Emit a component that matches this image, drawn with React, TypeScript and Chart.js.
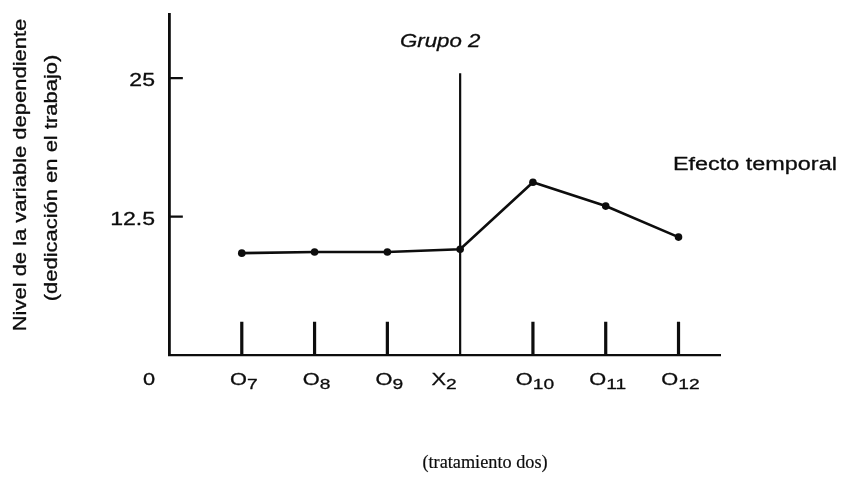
import React, { useEffect, useRef } from "react";
import { Chart, registerables } from "chart.js";

Chart.register(...registerables);

// ---- data ----
const labelBase = ["O", "O", "O", "X", "O", "O", "O"];
const labelSub = ["7", "8", "9", "2", "10", "11", "12"];
const values = [9.2, 9.3, 9.3, 9.55, 15.6, 13.45, 10.65];
const treatmentIndex = 3;
const treatmentLineTop = 25.45;
const observationTickHeight = 3;
const yTickValues = [12.5, 25];
const yTickLabels = ["12.5", "25"];
const yMax = 30.8;
const xMax = 7.57;
const yTitleLines = ["Nivel de la variable dependiente", "(dedicación en el trabajo)"];
const groupLabel = "Grupo 2";
const effectLabel = "Efecto temporal";
const xTitle = "(tratamiento dos)";
const originLabel = "0";

const SANS = '"Liberation Sans", Arial, sans-serif';
const SERIF = '"Liberation Serif", "Times New Roman", serif';
const INK = "#0d0d0d";

function drawStretched(
  ctx: CanvasRenderingContext2D,
  text: string,
  x: number,
  y: number,
  font: string,
  align: "left" | "center" | "right",
  sx: number,
  stroke = 0.3
) {
  ctx.save();
  ctx.font = font;
  const w = ctx.measureText(text).width * sx;
  const left = align === "center" ? x - w / 2 : align === "right" ? x - w : x;
  ctx.translate(left, y);
  ctx.scale(sx, 1);
  ctx.textAlign = "left";
  ctx.textBaseline = "alphabetic";
  ctx.fillStyle = INK;
  ctx.fillText(text, 0, 0);
  if (stroke > 0) {
    ctx.strokeStyle = INK;
    ctx.lineWidth = stroke;
    ctx.lineJoin = "round";
    ctx.strokeText(text, 0, 0);
  }
  ctx.restore();
}

const textPlugin = {
  id: "textPlugin",
  afterDraw(chart: any) {
    const ctx: CanvasRenderingContext2D = chart.ctx;
    const xs = chart.scales.x;
    const ys = chart.scales.y;
    const SX = 1.28;

    // y tick labels
    yTickValues.forEach((v, i) => {
      const py = ys.getPixelForValue(v);
      drawStretched(ctx, yTickLabels[i], 155, py + 8, `18px ${SANS}`, "right", SX);
    });

    // origin label
    drawStretched(ctx, originLabel, 149, 385, `17px ${SANS}`, "center", SX);

    // x category labels with subscripts
    const baseFont = `17px ${SANS}`;
    const subFont = `15px ${SANS}`;
    labelBase.forEach((b, i) => {
      const px = xs.getPixelForValue(i + 1);
      ctx.save();
      ctx.font = baseFont;
      const wb = ctx.measureText(b).width * SX;
      ctx.font = subFont;
      const wsub = ctx.measureText(labelSub[i]).width * SX;
      ctx.restore();
      const total = wb + wsub;
      const cx = i === treatmentIndex ? px - 16 : px + 2;
      const left = cx - total / 2;
      drawStretched(ctx, b, left, 385, baseFont, "left", SX);
      drawStretched(ctx, labelSub[i], left + wb, 389, subFont, "left", SX);
    });

    // annotations
    drawStretched(ctx, groupLabel, 400, 47, `italic 19px ${SANS}`, "left", 1.17);
    drawStretched(ctx, effectLabel, 673, 170, `18px ${SANS}`, "left", 1.3);
    drawStretched(ctx, xTitle, 485, 468, `19px ${SERIF}`, "center", 0.96, 0.2);

    // y title (rotated)
    const baselines = [26, 57];
    const centers = [175, 178];
    yTitleLines.forEach((line, i) => {
      ctx.save();
      ctx.translate(baselines[i], centers[i]);
      ctx.rotate(-Math.PI / 2);
      drawStretched(ctx, line, 0, 0, `18px ${SANS}`, "center", 1.22);
      ctx.restore();
    });
  },
};

export default function App() {
  const ref = useRef<HTMLCanvasElement | null>(null);

  useEffect(() => {
    document.body.style.margin = "0";
    const canvas = ref.current;
    if (!canvas) return;

    const mainData = values.map((v, i) => ({ x: i + 1, y: v }));
    const obsTicks: any[] = [];
    labelBase.forEach((_, i) => {
      if (i === treatmentIndex) return;
      obsTicks.push({ x: i + 1, y: 0 });
      obsTicks.push({ x: i + 1, y: observationTickHeight });
      obsTicks.push({ x: i + 1, y: null });
    });
    const treatmentLine = [
      { x: treatmentIndex + 1, y: 0 },
      { x: treatmentIndex + 1, y: treatmentLineTop },
    ];
    const yTickMarks: any[] = [];
    yTickValues.forEach((v) => {
      yTickMarks.push({ x: 0, y: v });
      yTickMarks.push({ x: 0.19, y: v });
      yTickMarks.push({ x: 0.19, y: null });
    });

    const chart = new Chart(canvas, {
      type: "scatter",
      data: {
        datasets: [
          {
            data: mainData,
            showLine: true,
            borderColor: INK,
            backgroundColor: INK,
            borderWidth: 2.6,
            pointRadius: 3.8,
            pointBackgroundColor: INK,
            pointBorderWidth: 0,
            clip: false as any,
          },
          {
            data: obsTicks,
            showLine: true,
            spanGaps: false,
            borderColor: INK,
            borderWidth: 3.2,
            pointRadius: 0,
            clip: false as any,
          },
          {
            data: treatmentLine,
            showLine: true,
            borderColor: INK,
            borderWidth: 2.2,
            pointRadius: 0,
            clip: false as any,
          },
          {
            data: yTickMarks,
            showLine: true,
            spanGaps: false,
            borderColor: INK,
            borderWidth: 2.2,
            pointRadius: 0,
            clip: false as any,
          },
        ],
      },
      options: {
        animation: false,
        responsive: false,
        events: [],
        layout: { padding: { top: 14, right: 125, left: 0, bottom: 0 } },
        plugins: { legend: { display: false }, tooltip: { enabled: false } },
        scales: {
          x: {
            type: "linear",
            min: 0,
            max: xMax,
            ticks: { display: false },
            grid: { display: true, drawOnChartArea: false, drawTicks: false },
            border: { display: true, color: INK, width: 2.2 },
            afterFit: (s: any) => {
              s.height = 127;
            },
          },
          y: {
            type: "linear",
            min: 0,
            max: yMax,
            ticks: { display: false },
            grid: { display: true, drawOnChartArea: false, drawTicks: false },
            border: { display: true, color: INK, width: 2.8 },
            afterFit: (s: any) => {
              s.width = 169;
            },
          },
        },
      },
      plugins: [textPlugin],
    });

    return () => chart.destroy();
  }, []);

  return (
    <div style={{ width: 845, height: 482, background: "#fff" }}>
      <canvas ref={ref} width={845} height={482} style={{ display: "block" }} />
    </div>
  );
}
